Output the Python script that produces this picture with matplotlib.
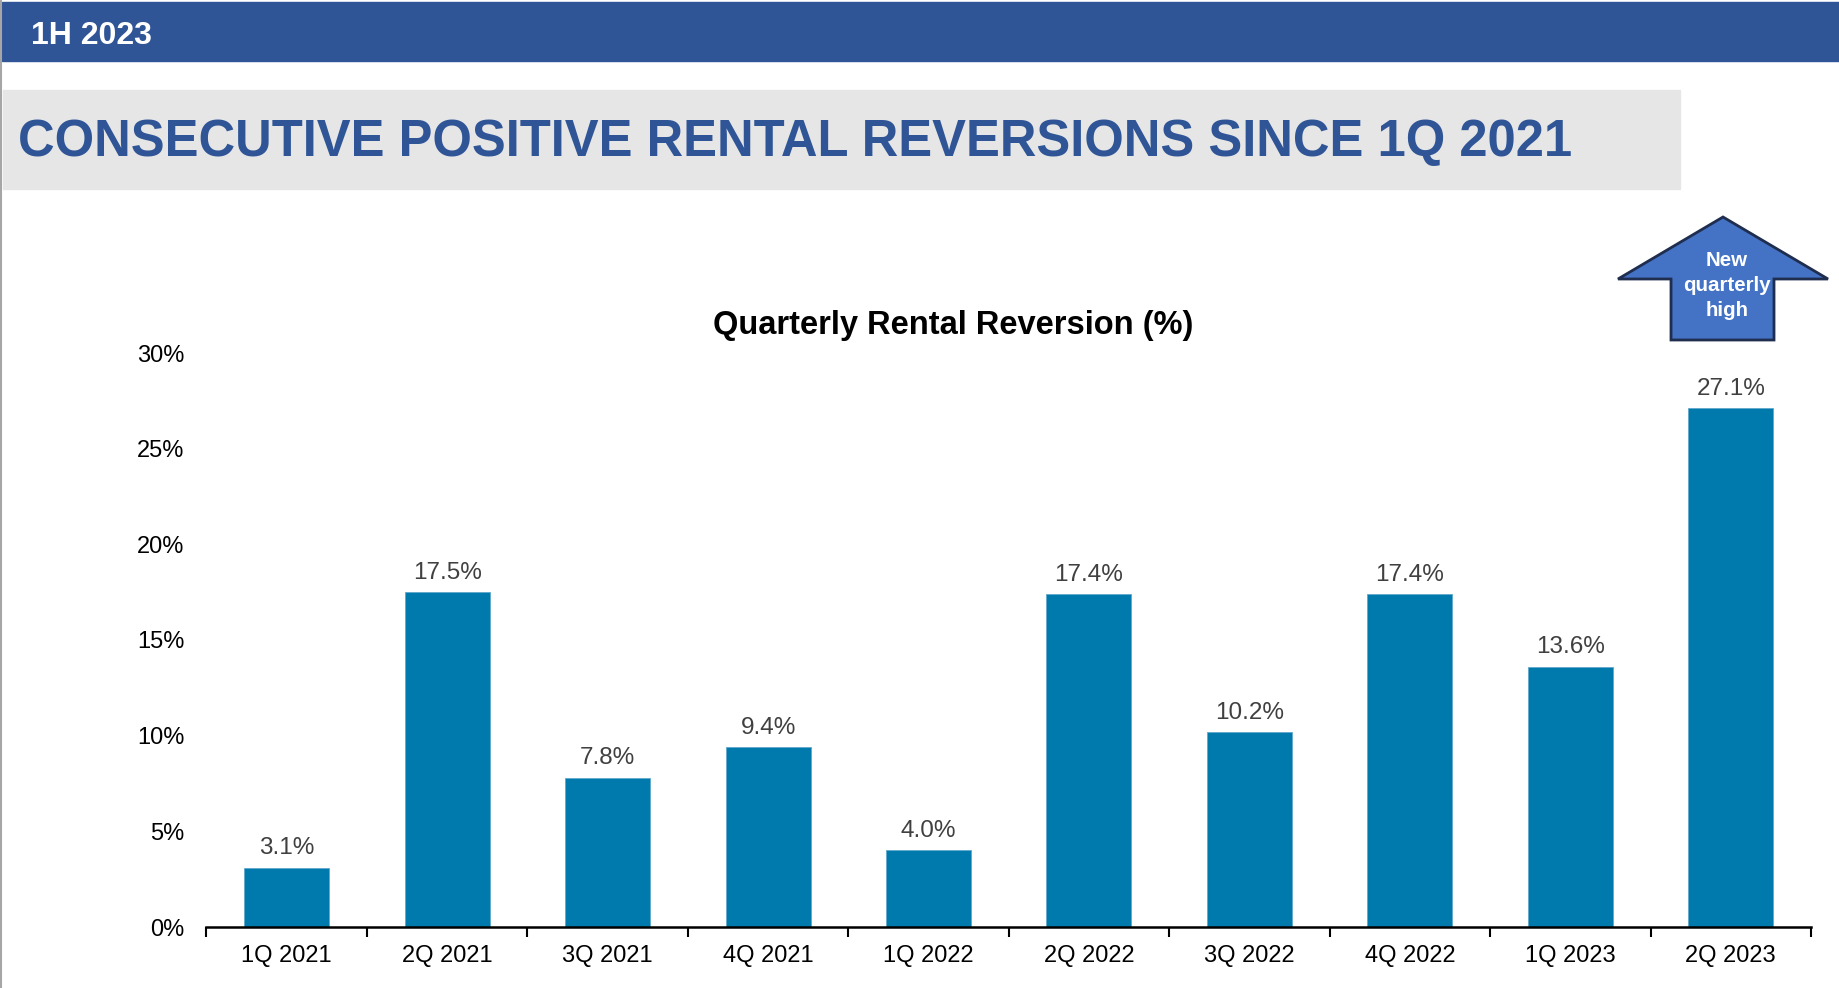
import numpy as np
import matplotlib.pyplot as plt
from matplotlib.patches import Rectangle, Polygon
from matplotlib.ticker import FixedLocator

quarters = ['1Q 2021', '2Q 2021', '3Q 2021', '4Q 2021', '1Q 2022',
            '2Q 2022', '3Q 2022', '4Q 2022', '1Q 2023', '2Q 2023']
reversion = [3.1, 17.5, 7.8, 9.4, 4.0, 17.4, 10.2, 17.4, 13.6, 27.1]
yticks = [0, 5, 10, 15, 20, 25, 30]

plt.rcParams['font.family'] = ['Liberation Sans', 'DejaVu Sans']

W, H = 1840, 988
fig = plt.figure(figsize=(W / 100, H / 100), dpi=100)

# background overlay in pixel coordinates
bg = fig.add_axes([0, 0, 1, 1])
bg.set_xlim(0, W)
bg.set_ylim(H, 0)
bg.axis('off')
bg.add_patch(Rectangle((2, 2), W, 59, color='#2F5597'))
bg.text(31, 36, '1H 2023', color='white', fontsize=23, fontweight='bold', va='center')
bg.add_patch(Rectangle((3, 90), 1677, 99, color='#E6E6E6'))
bg.text(18, 142, 'CONSECUTIVE POSITIVE RENTAL REVERSIONS SINCE 1Q 2021',
        color='#2F5597', fontsize=36.5, fontweight='bold', va='center')
bg.plot([1, 1], [0, H], color='#A6A6A6', lw=1.5)

# "new quarterly high" arrow
arrow = Polygon([(1723, 217), (1828, 279), (1774, 279), (1774, 340),
                 (1671, 340), (1671, 279), (1618, 279)], closed=True,
                facecolor='#4472C4', edgecolor='#1F2D4F', lw=2)
bg.add_patch(arrow)
for line, yy in zip(['New', 'quarterly', 'high'], [260, 285, 310]):
    bg.text(1727, yy, line, color='white', fontsize=14.8,
            fontweight='bold', ha='center', va='center')

bg.text(953, 325, 'Quarterly Rental Reversion (%)', ha='center', va='center',
        fontsize=23.5, fontweight='bold')

# chart
ax = fig.add_axes([206.5 / W, 61 / H, (1811 - 206.5) / W, 574 / H])
x = np.arange(len(quarters))
bars = ax.bar(x, reversion, width=0.53, color='#0079AC', edgecolor='#5FA8CC', lw=0.6)
for b, v in zip(bars, reversion):
    ax.annotate(f'{v:.1f}%', (b.get_x() + b.get_width() / 2, v),
                xytext=(0, 6), textcoords='offset points',
                ha='center', va='bottom', fontsize=17.5, color='#404040')

ax.set_xlim(-0.5, len(quarters) - 0.5)
ax.set_ylim(0, 30)
ax.set_yticks(yticks)
ax.set_yticklabels([f'{t}%' for t in yticks])
ax.set_xticks(x)
ax.set_xticklabels(quarters)
ax.xaxis.set_minor_locator(FixedLocator(np.arange(len(quarters) + 1) - 0.5))
ax.tick_params(axis='x', which='major', length=0, pad=13, labelsize=17)
ax.tick_params(axis='x', which='minor', length=7, width=1.5, direction='out')
ax.tick_params(axis='y', length=0, pad=16, labelsize=17)
for s in ['top', 'right', 'left']:
    ax.spines[s].set_visible(False)
ax.spines['bottom'].set_linewidth(1.8)
ax.set_facecolor('none')

fig.savefig('out.png', dpi=100)
